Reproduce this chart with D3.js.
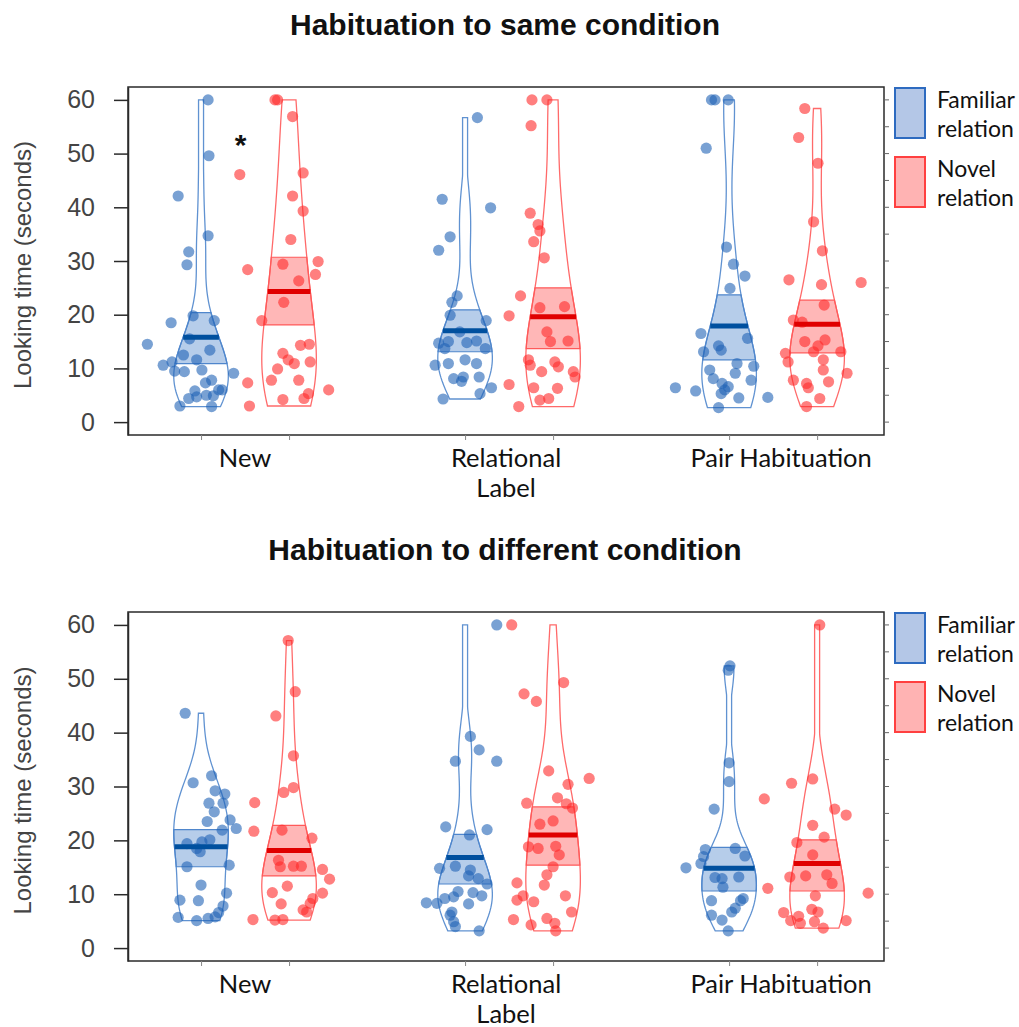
<!DOCTYPE html>
<html><head><meta charset="utf-8">
<script src="https://cdn.jsdelivr.net/npm/d3@7"></script>
<style>body{margin:0;background:#fff}</style>
</head><body>
<svg id="chart" width="1019" height="1027"></svg>
<script>
// ---------------- DATA ----------------
const categories = ["New", "Relational", "Pair Habituation"];
const conditions = ["Familiar relation", "Novel relation"];
const panelTitles = ["Habituation to same condition", "Habituation to different condition"];
const yTicks = [0, 10, 20, 30, 40, 50, 60];

// Panel 1: same condition  (values in seconds, jitter in bean units)
const sameNewFam = [60,49.6,42.1,34.7,31.7,29.3,19.8,18.5,18.9,14.5,15.5,13.4,12.5,11.6,10.6,11.2,9.5,9.7,9.4,9.1,7.8,7.3,6.0,5.8,6.0,4.9,4.4,4.7,3.0,2.9,5.0];
const sameNewFamJit = [0.08,0.09,-0.26,0.08,-0.14,-0.16,-0.09,-0.34,0.15,-0.61,-0.13,0.10,-0.20,-0.05,-0.43,-0.33,-0.30,0.01,-0.19,0.37,0.12,0.05,0.20,-0.07,0.24,0.14,-0.14,-0.05,-0.24,0.12,0.06];
const sameNewNov = [60,60,56.9,46.1,46.4,42.1,39.3,34.0,28.4,29.9,27.5,29.4,26.3,22.3,18.9,14.3,14.5,12.8,11.6,11.2,9.9,10.9,7.3,7.8,7.8,6.0,5.3,4.4,4.2,3.0];
const sameNewNovJit = [-0.16,-0.13,0.04,-0.56,0.16,0.04,0.16,0.02,-0.47,0.33,0.30,-0.07,0.11,-0.06,-0.31,0.13,0.23,-0.07,-0.01,0.24,-0.13,0.06,-0.47,-0.20,0.11,0.45,0.22,0.17,-0.07,-0.45];
const sameRelFam = [56.7,41.5,39.9,34.5,32.0,23.5,22.3,19.9,18.9,16.8,14.7,15.0,14.8,15.1,13.7,13.7,10.6,10.9,11.6,10.9,8.1,8.4,7.6,8.4,6.4,5.3,4.3];
const sameRelFamJit = [0.14,-0.26,0.29,-0.17,-0.30,-0.09,-0.15,-0.17,0.24,-0.06,-0.30,-0.19,0.02,0.13,0.23,-0.23,-0.34,-0.19,0.0,0.13,-0.13,-0.02,-0.04,0.16,0.30,0.17,-0.25];
const sameRelNov = [60,60,55.2,38.9,36.8,35.6,33.6,30.6,23.5,19.8,21.3,21.5,16.8,15.0,15.1,11.6,10.6,11.2,10.3,9.4,9.4,8.4,7.0,6.4,6.3,4.1,4.4,2.9];
const sameRelNovJit = [-0.24,-0.07,-0.25,-0.26,-0.17,-0.15,-0.22,-0.10,-0.37,-0.50,-0.15,0.13,-0.07,-0.03,0.17,-0.28,-0.26,0.02,0.06,-0.13,0.23,0.25,-0.50,-0.22,0.05,-0.15,-0.05,-0.39];
const samePairFam = [60,60,60,51.0,32.6,29.4,27.2,24.9,16.5,15.6,14.2,13.1,13.4,10.9,10.4,9.7,9.1,8.1,7.8,7.2,6.6,6.0,5.3,4.5,6.4,5.8,4.6,2.7];
const samePairFamJit = [-0.20,-0.16,-0.01,-0.26,-0.03,0.05,0.18,0.01,-0.32,0.21,-0.12,-0.29,-0.09,0.09,0.28,-0.22,0.07,-0.18,0.25,-0.08,-0.01,-0.05,-0.09,0.11,-0.61,-0.38,0.44,-0.12];
const samePairNov = [58.4,53.0,48.2,37.3,31.9,26.5,26.0,25.6,21.8,19.0,18.6,15.0,15.3,14.2,12.8,13.1,13.1,11.2,11.6,9.7,9.1,7.8,7.2,7.5,6.4,4.4,2.9];
const samePairNovJit = [-0.14,-0.21,0.01,-0.04,0.06,-0.32,0.50,0.05,0.08,-0.27,-0.17,-0.14,0.09,0.01,-0.36,-0.04,0.27,-0.33,0.07,0.07,0.34,-0.27,-0.12,0.13,-0.10,0.03,-0.12];
const sameMeans = [15.8, 24.3, 17.0, 19.6, 17.9, 18.2];
const sameInfLow = [10.9, 18.1, 13.1, 13.7, 11.6, 12.9];
const sameInfHigh = [20.4, 30.7, 20.9, 25.0, 23.7, 22.7];

// Panel 2: different condition
const diffNewFam = [43.6,30.7,32.0,29.2,28.6,26.9,26.9,25.3,23.8,22.2,23.5,21.9,19.7,20.1,19.4,18.5,17.9,15.1,15.4,11.7,10.2,8.9,8.8,7.8,6.6,5.7,5.1,5.5,5.8];
const diffNewFamJit = [-0.18,-0.09,0.12,0.16,0.27,0.25,0.09,0.15,0.33,0.40,0.07,0.24,0.01,0.10,-0.16,-0.05,-0.01,-0.16,0.32,0.0,0.29,-0.24,-0.03,0.25,0.20,-0.26,-0.05,0.08,0.16];
const diffNewNov = [57.1,47.6,43.1,35.7,29.8,28.9,27.0,21.7,21.9,20.4,16.3,15.1,15.2,15.2,14.6,12.8,11.5,10.3,10.2,9.2,8.2,8.3,7.1,6.7,5.3,5.2,5.3];
const diffNewNovJit = [-0.01,0.07,-0.15,0.05,0.05,-0.06,-0.39,-0.40,-0.08,0.26,-0.12,-0.10,0.05,0.14,0.38,0.46,-0.02,-0.19,0.38,0.27,-0.09,0.24,0.16,0.20,-0.41,-0.16,-0.07];
const diffRelFam = [60,39.3,36.8,34.7,34.7,22.5,22.0,21.0,14.8,15.2,14.5,13.4,12.9,11.9,10.5,10.3,9.7,9.5,8.4,8.3,9.2,8.2,6.7,6.1,4.9,4.0,3.2];
const diffRelFamJit = [0.36,0.06,0.16,-0.11,0.36,-0.22,0.25,0.05,-0.29,-0.11,0.06,0.04,0.15,0.25,-0.08,0.09,0.19,-0.13,-0.44,-0.32,-0.23,0.04,-0.15,-0.17,-0.13,-0.11,0.16];
const diffRelNov = [60,49.3,47.2,45.8,31.5,32.9,30.4,27.9,26.9,26.8,26.0,23.0,23.6,18.8,18.5,18.9,17.3,15.1,13.6,12.1,11.7,9.7,8.9,8.6,9.7,6.7,5.3,5.5,4.6,4.3,3.2];
const diffRelNovJit = [-0.47,0.12,-0.33,-0.19,0.41,-0.05,0.17,0.05,-0.30,0.15,0.22,-0.15,0.0,-0.28,-0.17,0.03,0.07,0.0,-0.07,-0.41,-0.10,-0.34,-0.41,-0.22,0.14,0.21,-0.45,-0.07,0.02,-0.25,0.03];
const diffPairFam = [52.4,51.6,34.4,30.9,25.8,18.3,18.5,17.1,17.0,15.7,14.9,13.1,12.9,13.2,11.3,8.8,8.8,9.2,7.4,6.7,6.1,5.2,3.2];
const diffPairFamJit = [0.01,-0.01,0.0,0.0,-0.17,-0.27,0.07,0.18,-0.29,-0.32,-0.49,-0.16,-0.08,0.11,-0.07,-0.20,0.13,0.16,0.07,0.03,-0.20,-0.08,-0.01];
const diffPairNov = [60,30.6,31.4,27.7,25.8,24.7,22.8,19.6,20.6,17.3,13.2,13.4,13.6,12.0,11.1,10.2,9.7,7.2,6.7,6.6,5.1,5.9,4.9,3.7,5.1,4.6];
const diffPairNovJit = [0.03,-0.29,-0.05,-0.60,0.20,0.33,-0.05,-0.23,0.08,-0.05,-0.31,-0.13,0.11,0.17,-0.56,0.58,-0.02,-0.06,0.01,-0.38,-0.30,-0.21,-0.03,0.07,0.33,-0.19];
const diffMeans = [18.8, 18.1, 16.8, 21.0, 14.8, 15.7];
const diffInfLow = [15.1, 13.4, 11.9, 15.4, 10.6, 10.6];
const diffInfHigh = [22.0, 22.8, 21.1, 26.2, 18.7, 20.1];

const beanPositions = [1, 2, 4, 5, 7, 8];
const groupCenters = [1.5, 4.5, 7.5];

// ---------------- STYLE ----------------
const palette = [
  {pt:"#1f63b5", line:"#4f86cc", band:"#2d6fc4", avg:"#00509f", legFill:"#b4c7e7", legStroke:"#2e6bc0"},
  {pt:"#ff2a2a", line:"#ff5a5a", band:"#ff3030", avg:"#e00000", legFill:"#ffb3b3", legStroke:"#ff4040"}
];
const SANS = "'Liberation Sans', Arial, sans-serif";
const LABF = "Lato, sans-serif";

const svg = d3.select("#chart");
const panels = [
  {title: panelTitles[0], top: 87, bottom: 435, titleY: 35,
   beans: [[sameNewFam,sameNewFamJit],[sameNewNov,sameNewNovJit],[sameRelFam,sameRelFamJit],[sameRelNov,sameRelNovJit],[samePairFam,samePairFamJit],[samePairNov,samePairNovJit]],
   means: sameMeans, lo: sameInfLow, hi: sameInfHigh, star: true},
  {title: panelTitles[1], top: 612, bottom: 961, titleY: 560,
   beans: [[diffNewFam,diffNewFamJit],[diffNewNov,diffNewNovJit],[diffRelFam,diffRelFamJit],[diffRelNov,diffRelNovJit],[diffPairFam,diffPairFamJit],[diffPairNov,diffPairNovJit]],
   means: diffMeans, lo: diffInfLow, hi: diffInfHigh, star: false}
];

const left = 128, right = 884;
const x = d3.scaleLinear().domain([0.17, 8.76]).range([left, right]);
const unitPx = x(1) - x(0);
const halfMax = 0.31;
const bwAdjust = 1.25;
const minHalf = 2.5;

function bwNrd0(v){
  const s = v.slice().sort(d3.ascending);
  const sd = d3.deviation(s);
  const iqr = d3.quantile(s, 0.75) - d3.quantile(s, 0.25);
  const lo = Math.min(sd, iqr / 1.34);
  return 0.9 * lo * Math.pow(s.length, -0.2);
}
function kde(v, bw, t){
  let s = 0;
  for (const xi of v){ const z = (t - xi) / bw; s += Math.exp(-0.5 * z * z); }
  return s / (v.length * bw * Math.sqrt(2 * Math.PI));
}

panels.forEach((p, pi) => {
  const y = d3.scaleLinear().domain([-2.4, 62.4]).range([p.bottom, p.top]);
  const g = svg.append("g");

  // title
  g.append("text").attr("x", 505).attr("y", p.titleY)
    .attr("text-anchor", "middle").attr("font-family", SANS)
    .attr("font-weight", "bold").attr("font-size", 30).attr("fill", "#111").text(p.title);

  // beans
  p.beans.forEach((b, bi) => {
    const vals = b[0], jit = b[1];
    const c = palette[bi % 2];
    const cx = x(beanPositions[bi]);
    const bw = bwNrd0(vals) * bwAdjust;
    const mn = d3.min(vals), mx = d3.max(vals);
    const N = 120;
    const grid = d3.range(N + 1).map(i => mn + (mx - mn) * i / N);
    const maxD = d3.max(grid, t => kde(vals, bw, t));
    const hw = t => Math.max(minHalf, kde(vals, bw, t) / maxD * halfMax * unitPx);
    const area = d3.area().y(d => y(d)).x0(d => cx - hw(d)).x1(d => cx + hw(d));

    // inference band
    const lo = p.lo[bi], hi = p.hi[bi];
    const bgrid = d3.range(41).map(i => lo + (hi - lo) * i / 40);
    g.append("path").attr("d", area(bgrid))
      .attr("fill", c.band).attr("fill-opacity", 0.35)
      .attr("stroke", c.line).attr("stroke-width", 1.2);

    // bean outline
    g.append("path").attr("d", area(grid))
      .attr("fill", "none").attr("stroke", c.line).attr("stroke-width", 1.3).attr("stroke-opacity", 0.9);

    // points
    g.selectAll(null).data(vals.map((v, i) => ({v, j: jit[i]}))).enter().append("circle")
      .attr("cx", d => cx + d.j * unitPx).attr("cy", d => y(d.v)).attr("r", 5.6)
      .attr("fill", c.pt).attr("fill-opacity", 0.6);

    // average line
    const m = p.means[bi];
    g.append("line").attr("x1", cx - hw(m)).attr("x2", cx + hw(m))
      .attr("y1", y(m)).attr("y2", y(m)).attr("stroke", c.avg).attr("stroke-width", 5);
  });

  // box
  g.append("rect").attr("x", left).attr("y", p.top).attr("width", right - left).attr("height", p.bottom - p.top)
    .attr("fill", "none").attr("stroke", "#2a2a2a").attr("stroke-width", 1.5);

  // right minor ticks
  g.selectAll(null).data(d3.range(0, 61, 5)).enter().append("line")
    .attr("x1", right).attr("x2", right + 5).attr("y1", d => y(d)).attr("y2", d => y(d))
    .attr("stroke", "#666").attr("stroke-width", 1);

  // y axis
  const ya = g.append("g").attr("transform", `translate(${left},0)`)
    .call(d3.axisLeft(y).tickValues(yTicks).tickSize(14).tickSizeOuter(0).tickPadding(19));
  ya.select(".domain").attr("stroke", "#2a2a2a").attr("stroke-width", 1.5);
  ya.selectAll(".tick line").attr("stroke", "#2a2a2a").attr("stroke-width", 1.5);
  ya.selectAll(".tick text").attr("font-family", SANS)
    .attr("font-size", 25).attr("fill", "#444");

  // x axis ticks
  const xa = g.append("g").attr("transform", `translate(0,${p.bottom})`)
    .call(d3.axisBottom(x).tickValues(beanPositions).tickSize(5).tickSizeOuter(0).tickFormat(""));
  xa.select(".domain").remove();
  xa.selectAll(".tick line").attr("stroke", "#888");

  // category labels
  g.selectAll(null).data(categories).enter().append("text")
    .attr("x", (d, i) => x(groupCenters[i]) + (i === 2 ? 8 : (i === 1 ? -3 : 0)))
    .attr("y", p.bottom + 32).attr("text-anchor", "middle")
    .attr("font-family", LABF).attr("font-size", 25.5).attr("fill", "#111").text(d => d);
  g.append("text").attr("x", x(groupCenters[1]) - 3).attr("y", p.bottom + 62)
    .attr("text-anchor", "middle").attr("font-family", LABF).attr("font-size", 25.5)
    .attr("fill", "#111").text("Label");

  // y title
  g.append("text").attr("transform", `translate(31,${(y(0) + y(60)) / 2 + 4}) rotate(-90)`)
    .attr("text-anchor", "middle").attr("font-family", SANS)
    .attr("font-size", 24).attr("fill", "#444").text("Looking time (seconds)");

  // legend
  const lg = g.append("g");
  conditions.forEach((cond, ci) => {
    const ly = p.top + 1 + ci * 69;
    lg.append("rect").attr("x", 895).attr("y", ly).attr("width", 30).attr("height", 50)
      .attr("fill", palette[ci].legFill).attr("stroke", palette[ci].legStroke).attr("stroke-width", 2);
    const words = cond.split(" ");
    words.forEach((w, wi) => {
      lg.append("text").attr("x", 937).attr("y", ly + 20 + wi * 29)
        .attr("font-family", LABF).attr("font-size", 23).attr("fill", "#111").text(w);
    });
  });

  if (p.star){
    g.append("text").attr("x", x(1.45)).attr("y", y(52.5) + 15).attr("text-anchor", "middle")
      .attr("font-family", SANS).attr("font-weight", "bold")
      .attr("font-size", 30).attr("fill", "#111").text("*");
  }
});
</script>
</body></html>
